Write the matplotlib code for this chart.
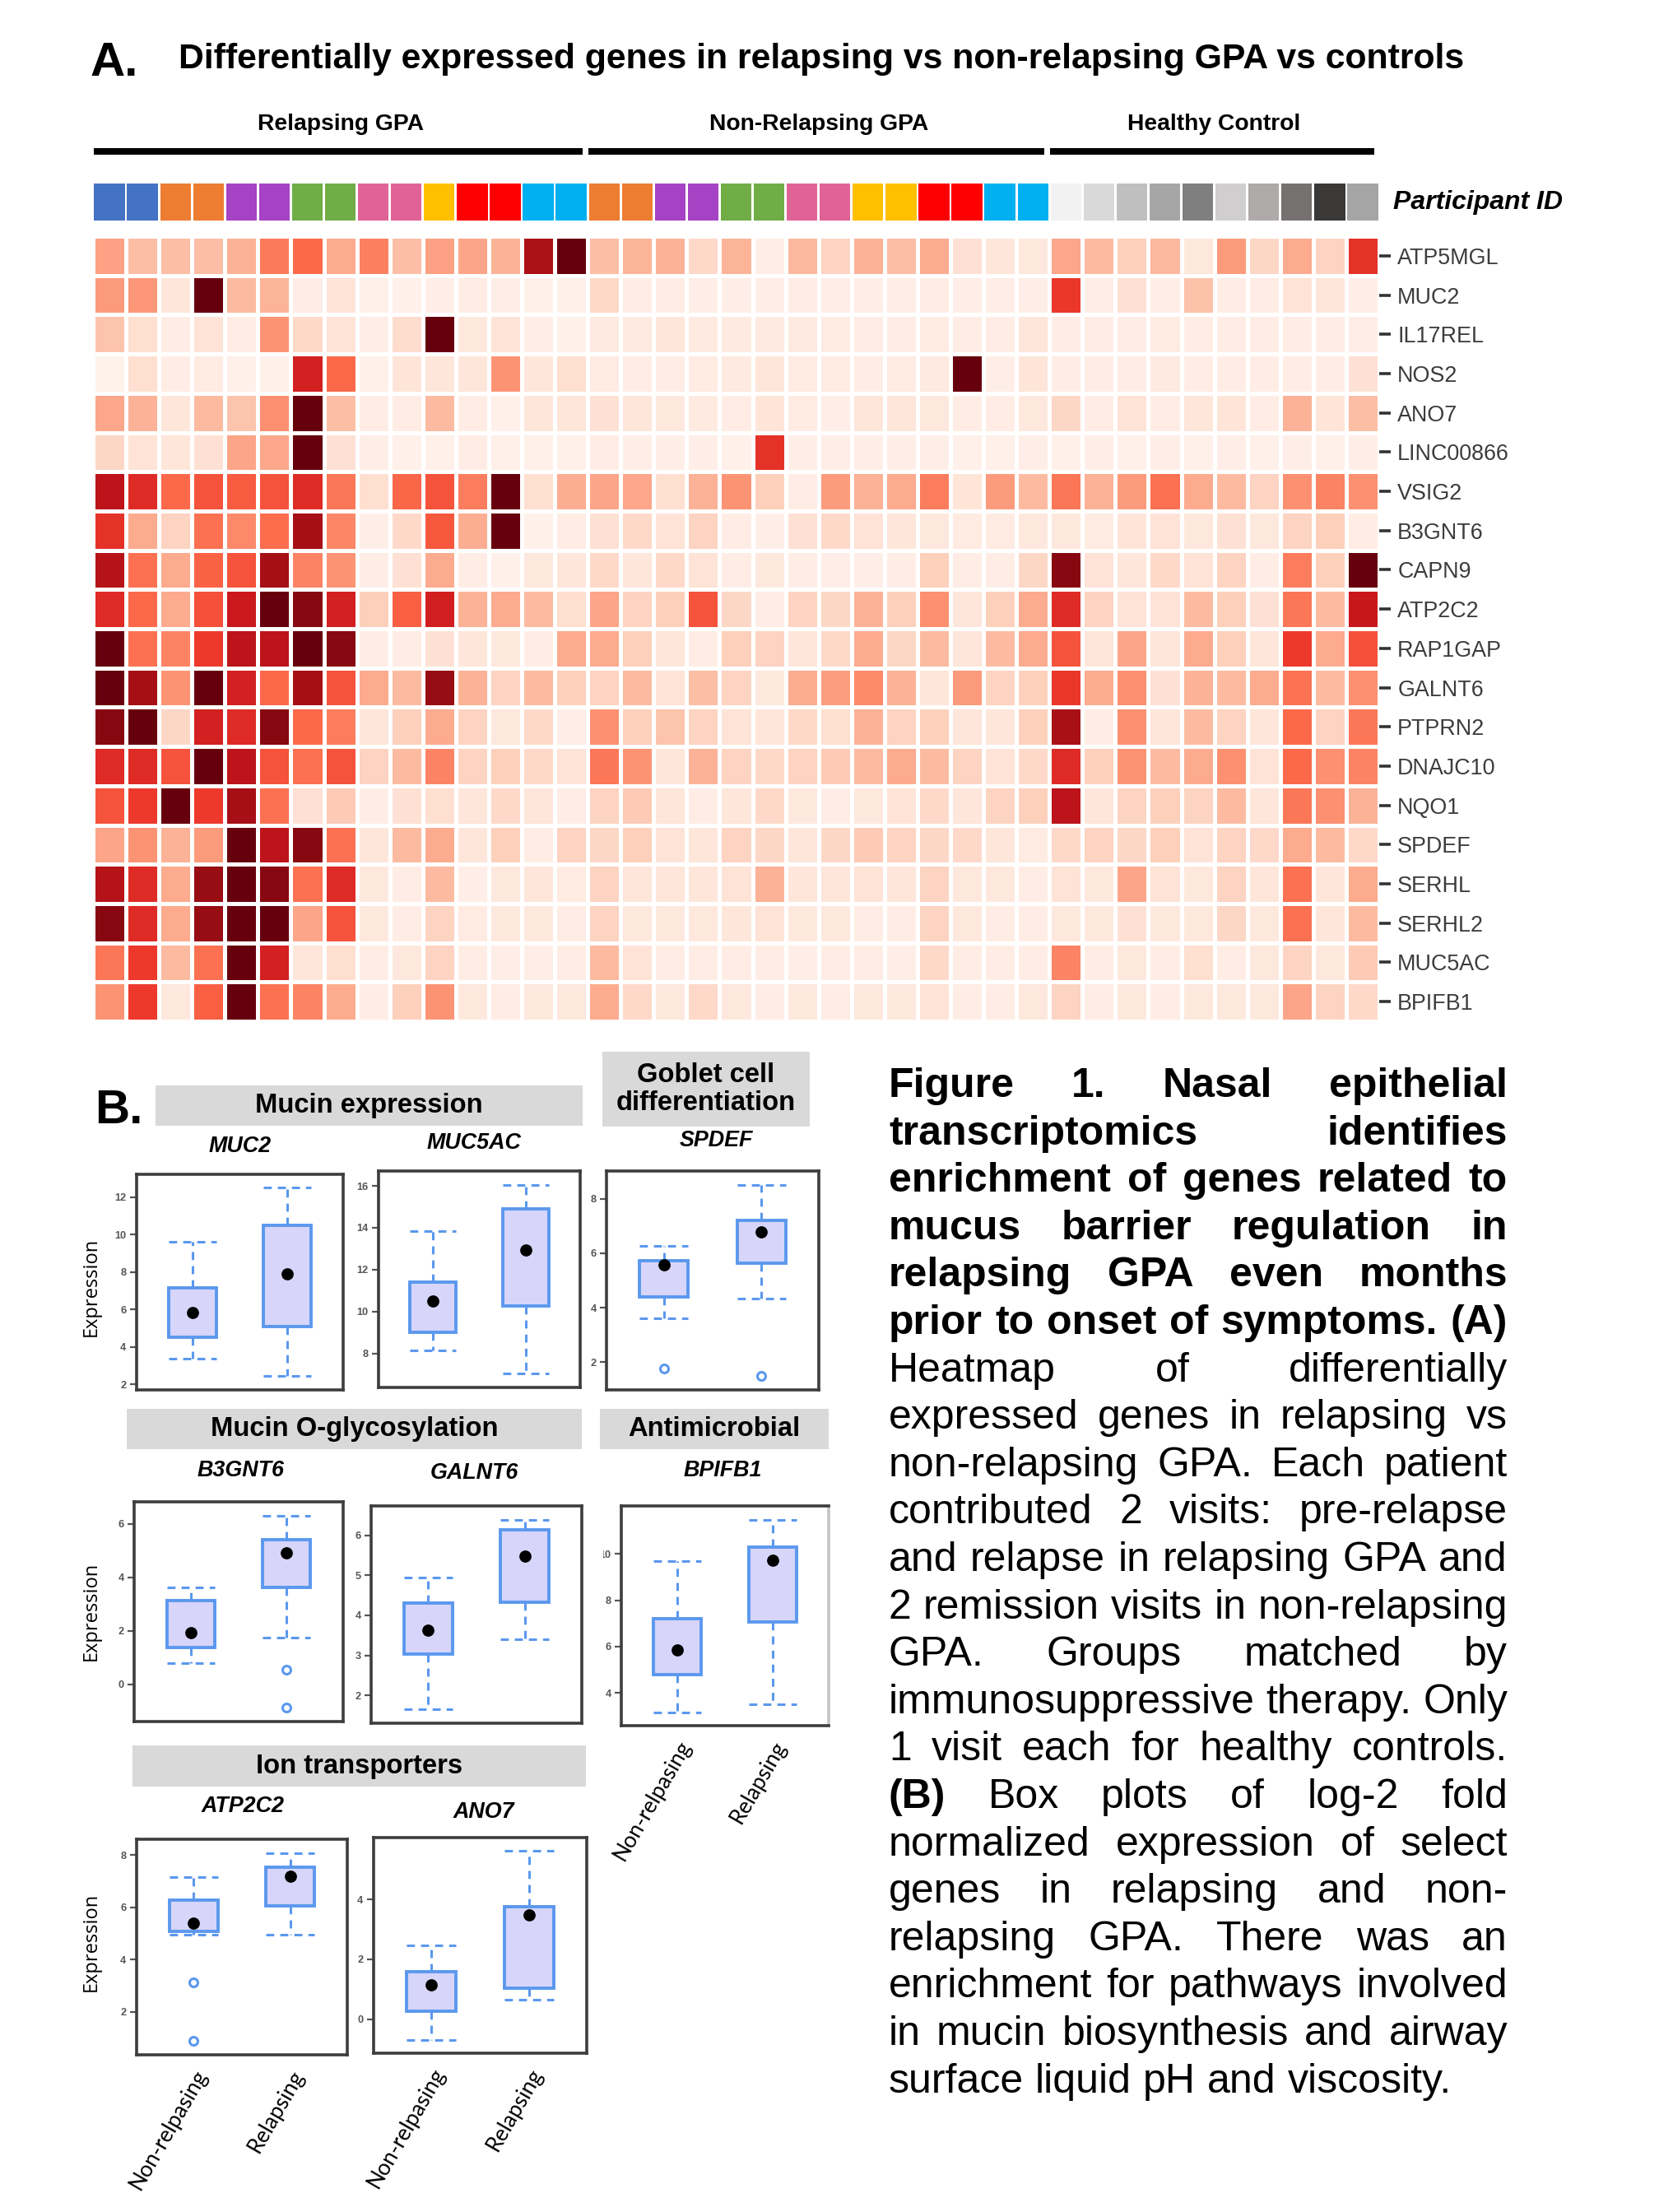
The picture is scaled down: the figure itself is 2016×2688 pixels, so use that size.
import numpy as np
import matplotlib
matplotlib.use('Agg')
from matplotlib import pyplot as plt
from matplotlib import font_manager
from matplotlib.patches import Rectangle
from matplotlib.transforms import blended_transform_factory, Bbox, TransformedBbox

plt.rcParams['font.family'] = ['Liberation Sans', 'DejaVu Sans']

_names = {f.name for f in font_manager.fontManager.ttflist}
NARROW = 'Liberation Sans Narrow' if 'Liberation Sans Narrow' in _names else 'Liberation Sans'
NSCALE = 1.0 if NARROW == 'Liberation Sans Narrow' else 0.84

# ---------------- data: heatmap ----------------
genes = ['ATP5MGL', 'MUC2', 'IL17REL', 'NOS2', 'ANO7', 'LINC00866', 'VSIG2', 'B3GNT6',
         'CAPN9', 'ATP2C2', 'RAP1GAP', 'GALNT6', 'PTPRN2', 'DNAJC10', 'NQO1', 'SPDEF',
         'SERHL', 'SERHL2', 'MUC5AC', 'BPIFB1']

group_names = ['Relapsing GPA', 'Non-Relapsing GPA', 'Healthy Control']

relapsing_colors = ['#4472c4', '#4472c4', '#ed7d31', '#ed7d31', '#a543c4', '#a543c4',
                    '#70ad47', '#70ad47', '#e06398', '#e06398', '#ffc000', '#ff0000',
                    '#ff0000', '#00b0f0', '#00b0f0']
nonrelapsing_colors = ['#ed7d31', '#ed7d31', '#a543c4', '#a543c4', '#70ad47', '#70ad47',
                       '#e06398', '#e06398', '#ffc000', '#ffc000', '#ff0000', '#ff0000',
                       '#00b0f0', '#00b0f0']
control_colors = ['#f2f2f2', '#d9d9d9', '#bfbfbf', '#a6a6a6', '#7f7f7f', '#d0cece',
                  '#aeaaaa', '#767171', '#3b3838', '#a5a5a5']

# scaled expression (0 = lowest, 1 = highest), one row per gene
relapsing_scores = [
    [.33, .24, .24, .24, .28, .45, .50, .30, .43, .24, .33, .32, .28, .85, 1.0],
    [.35, .36, .09, 1.0, .25, .27, .05, .10, .03, .03, .04, .05, .04, .03, .03],
    [.22, .13, .05, .11, .05, .37, .15, .11, .04, .14, 1.0, .08, .11, .04, .03],
    [.02, .13, .05, .06, .03, .03, .72, .50, .03, .10, .09, .09, .37, .09, .13],
    [.31, .28, .09, .25, .22, .38, 1.0, .24, .05, .05, .25, .05, .03, .09, .09],
    [.16, .11, .09, .12, .32, .31, 1.0, .12, .04, .03, .03, .05, .03, .03, .03],
    [.80, .68, .50, .56, .54, .56, .68, .46, .13, .51, .56, .44, 1.0, .13, .29],
    [.66, .30, .17, .48, .40, .49, .87, .41, .04, .15, .55, .29, 1.0, .03, .05],
    [.82, .48, .30, .52, .56, .87, .42, .37, .05, .12, .30, .05, .03, .08, .09],
    [.68, .50, .30, .57, .75, 1.0, .93, .72, .18, .53, .73, .28, .30, .25, .13],
    [1.0, .48, .42, .63, .80, .80, 1.0, .93, .05, .05, .12, .09, .08, .05, .30],
    [1.0, .87, .37, 1.0, .72, .50, .87, .56, .30, .25, .90, .28, .17, .25, .18],
    [.93, 1.0, .16, .72, .68, .93, .50, .44, .09, .18, .30, .17, .08, .15, .04],
    [.68, .68, .56, 1.0, .80, .56, .48, .56, .17, .25, .42, .17, .18, .15, .11],
    [.56, .63, 1.0, .63, .87, .48, .12, .20, .05, .12, .13, .09, .15, .09, .05],
    [.32, .37, .28, .35, 1.0, .80, .93, .48, .09, .25, .30, .09, .18, .05, .17],
    [.82, .68, .30, .90, 1.0, .93, .48, .68, .08, .05, .25, .04, .08, .09, .06],
    [.93, .68, .30, .90, 1.0, 1.0, .32, .56, .08, .05, .17, .06, .08, .08, .05],
    [.46, .63, .25, .48, 1.0, .72, .09, .13, .05, .08, .17, .05, .04, .04, .05],
    [.37, .63, .08, .53, 1.0, .48, .42, .30, .05, .18, .37, .08, .05, .08, .08],
]
nonrelapsing_scores = [
    [.24, .27, .28, .15, .27, .04, .26, .17, .28, .24, .30, .12, .09, .08],
    [.15, .05, .05, .04, .04, .04, .05, .04, .04, .04, .05, .04, .04, .04],
    [.07, .07, .09, .07, .07, .07, .07, .06, .05, .05, .06, .05, .05, .09],
    [.06, .05, .05, .06, .07, .09, .06, .06, .05, .06, .07, 1.0, .04, .10],
    [.12, .09, .08, .07, .05, .10, .06, .04, .09, .09, .08, .05, .05, .08],
    [.05, .04, .04, .04, .03, .66, .04, .04, .04, .04, .04, .03, .03, .04],
    [.32, .31, .13, .28, .37, .18, .05, .35, .28, .30, .44, .10, .35, .25],
    [.12, .15, .11, .17, .05, .04, .12, .15, .11, .09, .08, .06, .06, .08],
    [.15, .09, .15, .11, .05, .08, .05, .04, .04, .05, .18, .05, .05, .16],
    [.32, .17, .18, .56, .16, .05, .17, .16, .28, .18, .38, .09, .18, .30],
    [.30, .18, .09, .05, .18, .17, .09, .15, .30, .16, .25, .09, .25, .30],
    [.17, .25, .11, .24, .17, .08, .30, .34, .40, .28, .09, .35, .17, .18],
    [.38, .18, .22, .17, .11, .09, .15, .13, .28, .17, .18, .09, .09, .18],
    [.46, .37, .09, .28, .17, .15, .17, .20, .25, .30, .25, .17, .11, .15],
    [.17, .20, .09, .05, .09, .15, .08, .05, .08, .11, .15, .09, .17, .18],
    [.16, .18, .11, .09, .17, .16, .09, .16, .20, .17, .16, .15, .09, .06],
    [.17, .09, .09, .09, .11, .28, .09, .09, .11, .09, .17, .08, .08, .05],
    [.17, .08, .08, .08, .09, .11, .08, .08, .05, .05, .17, .08, .05, .05],
    [.25, .11, .05, .05, .05, .05, .04, .05, .05, .04, .15, .05, .05, .05],
    [.30, .15, .08, .15, .08, .05, .08, .05, .08, .08, .11, .05, .05, .08],
]
control_scores = [
    [.31, .25, .18, .26, .08, .35, .16, .30, .17, .66],
    [.64, .04, .12, .04, .23, .05, .05, .11, .09, .04],
    [.05, .05, .05, .06, .05, .05, .05, .05, .05, .04],
    [.05, .05, .05, .07, .05, .05, .05, .05, .05, .12],
    [.16, .05, .11, .05, .09, .10, .05, .28, .10, .24],
    [.03, .04, .03, .04, .03, .04, .03, .04, .03, .04],
    [.46, .28, .35, .48, .30, .25, .17, .38, .42, .38],
    [.08, .06, .10, .11, .08, .12, .08, .17, .18, .05],
    [.93, .11, .09, .15, .11, .17, .05, .44, .18, 1.0],
    [.68, .17, .11, .11, .25, .18, .12, .46, .25, .76],
    [.56, .09, .32, .09, .30, .18, .09, .63, .30, .57],
    [.64, .30, .38, .12, .28, .25, .30, .47, .25, .38],
    [.86, .05, .38, .09, .25, .17, .09, .50, .17, .46],
    [.68, .18, .37, .25, .30, .38, .11, .50, .38, .42],
    [.80, .09, .17, .18, .17, .25, .09, .46, .38, .28],
    [.15, .17, .16, .18, .11, .17, .15, .30, .25, .15],
    [.11, .08, .32, .11, .08, .17, .09, .48, .09, .30],
    [.08, .08, .12, .08, .08, .16, .08, .48, .09, .25],
    [.42, .05, .08, .05, .13, .05, .08, .17, .08, .20],
    [.17, .05, .08, .05, .08, .08, .08, .32, .17, .15],
]

# ---------------- data: box plots ----------------
box_genes = ['MUC2', 'MUC5AC', 'SPDEF', 'B3GNT6', 'GALNT6', 'BPIFB1', 'ATP2C2', 'ANO7']
box_groups = ['Non-relpasing', 'Relapsing']
# [lower whisker, Q1, dot, Q3, upper whisker]
nonrel_stats = [[3.39, 4.53, 5.84, 7.15, 9.62],
                [8.14, 9.00, 10.49, 11.41, 13.86],
                [3.61, 4.38, 5.58, 5.72, 6.28],
                [0.79, 1.38, 1.92, 3.14, 3.63],
                [1.65, 3.03, 3.64, 4.30, 4.94],
                [3.15, 4.80, 5.85, 7.20, 9.68],
                [4.96, 5.08, 5.41, 6.27, 7.16],
                [-0.68, 0.28, 1.15, 1.60, 2.47]]
rel_stats = [[2.44, 5.09, 7.90, 10.50, 12.51],
             [7.03, 10.27, 12.93, 14.90, 16.04],
             [4.34, 5.65, 6.79, 7.21, 8.50],
             [1.73, 3.62, 4.91, 5.42, 6.32],
             [3.40, 4.33, 5.48, 6.13, 6.39],
             [3.52, 7.05, 9.72, 10.30, 11.49],
             [4.96, 6.07, 7.20, 7.55, 8.07],
             [0.65, 1.05, 3.47, 3.75, 5.61]]
nonrel_fliers = [[], [], [1.77], [], [], [], [3.12, 0.88], []]
rel_fliers = [[], [], [1.48], [0.53, -0.89], [], [], [], []]
y_limits = [(1.71, 13.21), (6.38, 16.71), (0.97, 9.03), (-1.4, 6.83),
            (1.31, 6.73), (2.58, 12.08), (0.35, 8.61), (-1.13, 6.06)]
y_ticks = [[2, 4, 6, 8, 10, 12], [8, 10, 12, 14, 16], [2, 4, 6, 8], [0, 2, 4, 6],
           [2, 3, 4, 5, 6], [4, 6, 8, 10], [2, 4, 6, 8], [0, 2, 4]]

categories = [('Mucin expression', (189, 1319, 708, 1368)),
              ('Goblet cell\ndifferentiation', (732, 1278, 984, 1369)),
              ('Mucin O-glycosylation', (154, 1712, 707, 1761)),
              ('Antimicrobial', (729, 1712, 1007, 1761)),
              ('Ion transporters', (161, 2121, 712, 2171))]

caption_lines = [
    ('Figure 1. Nasal epithelial', 4),
    ('transcriptomics identifies', 2),
    ('enrichment of genes related to', 5),
    ('mucus barrier regulation in', 4),
    ('relapsing GPA even months', 4),
    ('prior to onset of symptoms. (A)', 6),
    ('Heatmap of differentially', 0),
    ('expressed genes in relapsing vs', 0),
    ('non-relapsing GPA. Each patient', 0),
    ('contributed 2 visits: pre-relapse', 0),
    ('and relapse in relapsing GPA and', 0),
    ('2 remission visits in non-relapsing', 0),
    ('GPA. Groups matched by', 0),
    ('immunosuppressive therapy. Only', 0),
    ('1 visit each for healthy controls.', 0),
    ('(B) Box plots of log-2 fold', 1),
    ('normalized expression of select', 0),
    ('genes in relapsing and non-', 0),
    ('relapsing GPA. There was an', 0),
    ('enrichment for pathways involved', 0),
    ('in mucin biosynthesis and airway', 0),
    ('surface liquid pH and viscosity.', 0),
]

W, H = 2016, 2688
DPI = 200


def box(x0, y0, x1, y1):
    # pixel box (top-left origin) -> figure fraction rect
    return [x0 / W, 1 - y1 / H, (x1 - x0) / W, (y1 - y0) / H]


def fx(x):
    return x / W


def fy(y):
    return 1 - y / H


fig = plt.figure(figsize=(W / DPI, H / DPI), dpi=DPI)
fig.patch.set_facecolor('white')

# ---------------- panel A ----------------
fig.text(fx(110), fy(92), 'A.', fontsize=21, weight='bold', va='baseline')
fig.text(fx(217), fy(83), 'Differentially expressed genes in relapsing vs non-relapsing GPA vs controls',
         fontsize=15.4, weight='bold', va='baseline')

scores = np.hstack([np.array(relapsing_scores), np.array(nonrelapsing_scores), np.array(control_scores)])
participant_colors = relapsing_colors + nonrelapsing_colors + control_colors
n_cols = scores.shape[1]

ax_col = fig.add_axes(box(113, 223, 1676, 268))
ax_col.bar(np.arange(n_cols) + 0.5, 1, width=0.93, color=participant_colors)
ax_col.set_xlim(0, n_cols)
ax_col.set_ylim(0, 1)
ax_col.axis('off')

tr = blended_transform_factory(ax_col.transData, fig.transFigure)
bounds = np.cumsum([0, len(relapsing_colors), len(nonrelapsing_colors), len(control_colors)])
for name, a, b in zip(group_names, bounds[:-1], bounds[1:]):
    ax_col.plot([a + 0.03, b - 0.15], [fy(184)] * 2, color='black', lw=2.9, transform=tr,
                clip_on=False, solid_capstyle='butt')
    ax_col.text((a + b) / 2, fy(151), name, transform=tr, ha='center', va='center',
                fontsize=10.2, weight='bold')

fig.text(fx(1693), fy(246), 'Participant ID', fontsize=11.5, weight='bold', style='italic', va='center')

ax_hm = fig.add_axes(box(113, 287, 1676, 1241))
ax_hm.pcolormesh(scores, cmap='Reds', vmin=0, vmax=1, edgecolors='white', linewidth=1.1)
ax_hm.set_xlim(0, n_cols)
ax_hm.set_ylim(len(genes), 0)
ax_hm.set_xticks([])
ax_hm.yaxis.tick_right()
ax_hm.set_yticks(np.arange(len(genes)) + 0.5)
ax_hm.set_yticklabels(genes, fontfamily=NARROW, fontsize=11.5 * NSCALE, color='#3c3c3c')
ax_hm.tick_params(axis='y', length=5, width=1.3, color='#333333', pad=3)
for s in ax_hm.spines.values():
    s.set_visible(False)

# ---------------- panel B ----------------
fig.text(fx(115), fy(1365), 'B.', fontsize=21, weight='bold', va='baseline')

for label, (x0, y0, x1, y1) in categories:
    fig.patches.append(Rectangle((fx(x0), fy(y1)), (x1 - x0) / W, (y1 - y0) / H,
                                 transform=fig.transFigure, facecolor='#d9d9d9', edgecolor='none'))
    fig.text(fx((x0 + x1) / 2), fy((y0 + y1) / 2), label, ha='center', va='center',
             fontsize=11.8, weight='bold', linespacing=1.15)

box_axes_px = [(166, 1427, 417, 1689), (460, 1423, 705, 1686), (737, 1423, 995, 1689),
               (163, 1825, 417, 2092), (451, 1830, 707, 2094), (755, 1830, 1007, 2097),
               (166, 2235, 422, 2497), (454, 2233, 713, 2495)]
title_px = [(292, 1393), (576, 1389), (870, 1386), (293, 1787), (576, 1790), (878, 1787),
            (295, 2195), (588, 2202)]
bottom_row = {'BPIFB1', 'ATP2C2', 'ANO7'}

BLUE = '#5b98ee'
dash = (0, (3.2, 2.4))

for i, gene in enumerate(box_genes):
    ax = fig.add_axes(box(*box_axes_px[i]))
    stats = []
    for vals, fl in ((nonrel_stats[i], nonrel_fliers[i]), (rel_stats[i], rel_fliers[i])):
        lo, q1, dot, q3, hi = vals
        stats.append(dict(whislo=lo, q1=q1, med=dot, mean=dot, q3=q3, whishi=hi, fliers=fl))
    ax.bxp(stats, positions=[1, 2], widths=0.5, capwidths=0.5, patch_artist=True, showmeans=True,
           boxprops=dict(facecolor='#d7d5fa', edgecolor=BLUE, linewidth=1.4),
           whiskerprops=dict(color=BLUE, linestyle=dash, linewidth=1.1),
           capprops=dict(color=BLUE, linestyle=dash, linewidth=1.1),
           medianprops=dict(linewidth=0),
           meanprops=dict(marker='o', markerfacecolor='black', markeredgecolor='black', markersize=4.3),
           flierprops=dict(marker='o', markerfacecolor='none', markeredgecolor=BLUE,
                           markersize=3.6, markeredgewidth=1.1))
    ax.set_xlim(0.41, 2.59)
    ax.set_ylim(*y_limits[i])
    ax.set_yticks(y_ticks[i])
    ax.set_yticklabels([str(t) for t in y_ticks[i]], fontfamily=NARROW, fontweight='bold',
                       fontsize=5.5 * NSCALE)
    ax.tick_params(axis='y', length=3, width=0.8, color='#555555', labelcolor='#555555', pad=1.5)
    ax.set_xticks([1, 2])
    if gene in bottom_row:
        ax.set_xticklabels(box_groups, rotation=60, ha='right', rotation_mode='anchor',
                           fontfamily='Lato', fontsize=9.5)
        ax.tick_params(axis='x', length=0, pad=5)
    else:
        ax.tick_params(axis='x', length=0, labelbottom=False)
    for s in ax.spines.values():
        s.set_color('#3d3d3d')
        s.set_linewidth(1.3)
    if gene == 'BPIFB1':
        ax.spines['right'].set_color('#c4c4c4')
        clip = TransformedBbox(Bbox([[fx(733), 0], [1, 1]]), fig.transFigure)
        for lab in ax.get_yticklabels():
            lab.set_clip_on(True)
            lab.set_clip_box(clip)
    tx, ty = title_px[i]
    fig.text(fx(tx), fy(ty), gene, ha='center', va='center', fontfamily=NARROW,
             fontweight='bold', style='italic', fontsize=11.5 * NSCALE)

for yc in (1564, 1958, 2360):
    fig.text(fx(111), fy(yc), 'Expression', rotation=90, ha='center', va='center',
             fontfamily='Open Sans', fontsize=8.5)

# ---------------- caption (justified) ----------------
renderer = fig.canvas.get_renderer()
x_left, x_right = 1080, 1832
fig_w = fig.bbox.width
space_px = 0.278 * 18 * DPI / 72
for i, (line, nbold) in enumerate(caption_lines):
    words = line.split()
    y = fy(1333 + 57.6 * i)
    texts = [fig.text(0, y, w, fontsize=18, va='baseline',
                      fontweight='bold' if k < nbold else 'normal') for k, w in enumerate(words)]
    widths = [t.get_window_extent(renderer).width * W / fig_w for t in texts]
    if i == len(caption_lines) - 1:
        gap = space_px
    else:
        gap = (x_right - x_left - sum(widths)) / (len(words) - 1)
    x = x_left
    for t, w in zip(texts, widths):
        t.set_x(fx(x))
        x += w + gap

fig.savefig('out.png', dpi=DPI)
